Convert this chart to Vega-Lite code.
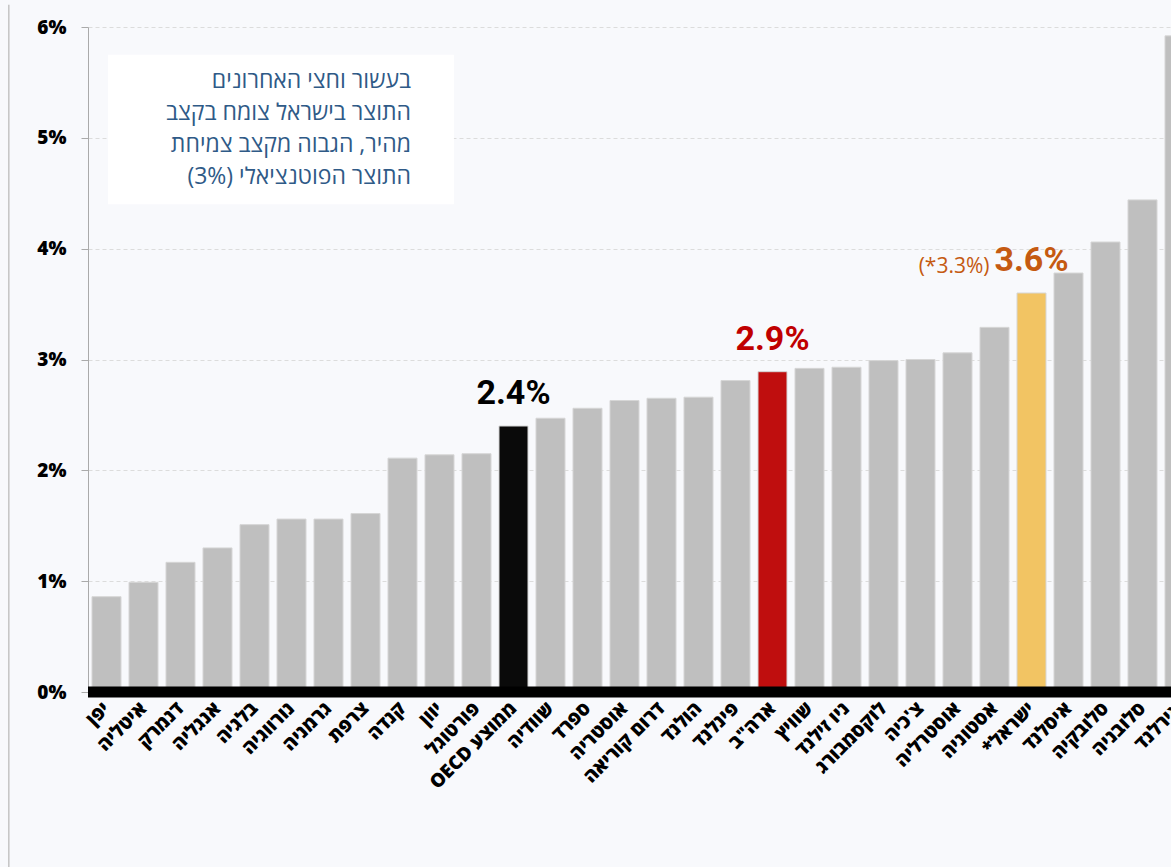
{
  "$schema": "https://vega.github.io/schema/vega-lite/v6.json",
  "width": 1110,
  "height": 665,
  "autosize": {"type": "none"},
  "padding": {"left": 88, "top": 27, "right": 0, "bottom": 175},
  "background": "#f8f9fc",
  "config": {"view": {"stroke": null}},
  "layer": [
    {
      "data": {
        "values": [
          {"country": "יפן", "value": 0.86, "group": "other"},
          {"country": "איטליה", "value": 0.99, "group": "other"},
          {"country": "דנמרק", "value": 1.17, "group": "other"},
          {"country": "אנגליה", "value": 1.30, "group": "other"},
          {"country": "בלגיה", "value": 1.51, "group": "other"},
          {"country": "נורווגיה", "value": 1.56, "group": "other"},
          {"country": "גרמניה", "value": 1.56, "group": "other"},
          {"country": "צרפת", "value": 1.61, "group": "other"},
          {"country": "קנדה", "value": 2.11, "group": "other"},
          {"country": "יוון", "value": 2.14, "group": "other"},
          {"country": "פורטוגל", "value": 2.15, "group": "other"},
          {"country": "OECD ממוצע", "value": 2.40, "group": "oecd", "label": "2.4%"},
          {"country": "שוודיה", "value": 2.47, "group": "other"},
          {"country": "ספרד", "value": 2.56, "group": "other"},
          {"country": "אוסטריה", "value": 2.63, "group": "other"},
          {"country": "דרום קוריאה", "value": 2.65, "group": "other"},
          {"country": "הולנד", "value": 2.66, "group": "other"},
          {"country": "פינלנד", "value": 2.81, "group": "other"},
          {"country": "ארה\"ב", "value": 2.89, "group": "us", "label": "2.9%"},
          {"country": "שוויץ", "value": 2.92, "group": "other"},
          {"country": "ניו זילנד", "value": 2.93, "group": "other"},
          {"country": "לוקסמבורג", "value": 2.99, "group": "other"},
          {"country": "צ'כיה", "value": 3.00, "group": "other"},
          {"country": "אוסטרליה", "value": 3.06, "group": "other"},
          {"country": "אסטוניה", "value": 3.29, "group": "other"},
          {"country": "*ישראל", "value": 3.60, "group": "israel", "label": "3.6%", "note": "(*3.3%)"},
          {"country": "איסלנד", "value": 3.78, "group": "other"},
          {"country": "סלובקיה", "value": 4.06, "group": "other"},
          {"country": "סלובניה", "value": 4.44, "group": "other"},
          {"country": "אירלנד", "value": 5.92, "group": "other"}
        ]
      },
      "encoding": {
        "x": {
          "field": "country", "type": "nominal", "sort": null,
          "scale": {"paddingInner": 0.216, "paddingOuter": 0.108},
          "axis": {
            "title": null, "domain": false, "ticks": false,
            "labelAngle": -45, "labelAlign": "right", "labelBaseline": "middle",
            "labelPadding": 13, "labelFont": "Open Sans", "labelFontWeight": 800,
            "labelFontSize": 19, "labelColor": "#000000", "labelLimit": 220
          }
        },
        "y": {
          "field": "value", "type": "quantitative",
          "scale": {"domain": [0, 6], "nice": false},
          "axis": {
            "title": null, "values": [0, 1, 2, 3, 4, 5, 6],
            "labelExpr": "datum.value + '%'",
            "domainColor": "#aaaaaa", "tickColor": "#aaaaaa", "tickSize": 7,
            "labelFont": "Open Sans", "labelFontWeight": 800, "labelFontSize": 19,
            "labelColor": "#000000", "labelPadding": 15,
            "gridColor": "#dcdcdc", "gridDash": [4, 3]
          }
        }
      },
      "layer": [
        {
          "mark": {"type": "bar", "stroke": "#d6d6d6", "strokeWidth": 1},
          "encoding": {
            "color": {
              "field": "group", "type": "nominal",
              "scale": {"domain": ["other", "oecd", "us", "israel"], "range": ["#bfbfbf", "#0a0a0a", "#bf0e0e", "#f2c463"]},
              "legend": null
            }
          }
        },
        {
          "transform": [{"filter": "isValid(datum.label)"}],
          "mark": {"type": "text", "font": "Roboto", "fontWeight": "bold", "fontSize": 34, "dy": -22, "baseline": "alphabetic"},
          "encoding": {
            "text": {"field": "label"},
            "color": {
              "field": "group", "type": "nominal",
              "scale": {"domain": ["oecd", "us", "israel"], "range": ["#000000", "#c00000", "#c55a11"]},
              "legend": null
            }
          }
        },
        {
          "transform": [{"filter": "isValid(datum.note)"}],
          "mark": {"type": "text", "font": "Open Sans", "fontSize": 21, "dy": -20, "dx": -42, "align": "right", "baseline": "alphabetic", "color": "#c55a11"},
          "encoding": {
            "text": {"field": "note"}
          }
        }
      ],
      "resolve": {"scale": {"color": "independent"}}
    },
    {
      "data": {
        "values": [
          {"note": ["בעשור וחצי האחרונים", "התוצר בישראל צומח בקצב", "מהיר, הגבוה מקצב צמיחת", "(3%) התוצר הפוטנציאלי"]}
        ]
      },
      "layer": [
        {
          "mark": {"type": "rect", "color": "#ffffff"},
          "encoding": {
            "x": {"datum": 0.54, "type": "quantitative", "scale": {"domain": [0, 30], "nice": false}, "axis": null},
            "x2": {"datum": 9.89},
            "y": {"datum": 4.40, "type": "quantitative"},
            "y2": {"datum": 5.75}
          }
        },
        {
          "mark": {"type": "text", "font": "Open Sans", "fontSize": 23, "lineHeight": 32, "align": "right", "baseline": "alphabetic", "color": "#2f5a87"},
          "encoding": {
            "x": {"datum": 8.73, "type": "quantitative", "scale": {"domain": [0, 30], "nice": false}, "axis": null},
            "y": {"datum": 5.45, "type": "quantitative"},
            "text": {"field": "note"}
          }
        },
        {
          "mark": {"type": "rule", "color": "#000000", "strokeWidth": 11},
          "encoding": {
            "y": {"datum": 0, "type": "quantitative"}
          }
        },
        {
          "mark": {"type": "rule", "color": "#c4c4c4", "strokeWidth": 1.5},
          "encoding": {
            "x": {"datum": -2.14, "type": "quantitative", "scale": {"domain": [0, 30], "nice": false}, "axis": null},
            "y": {"datum": 6.2, "type": "quantitative"},
            "y2": {"datum": -1.6}
          }
        }
      ]
    }
  ],
  "resolve": {"scale": {"x": "independent"}, "axis": {"x": "independent"}}
}
